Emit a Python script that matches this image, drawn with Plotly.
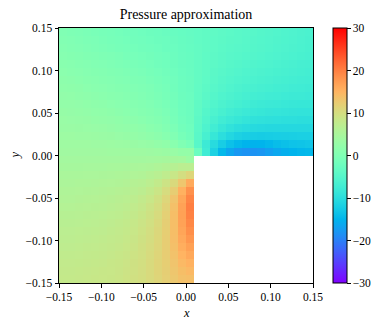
import math
import plotly.graph_objects as go

# ---------------- data ----------------
N = 32
x_min, x_max = -0.15, 0.15
y_min, y_max = -0.15, 0.15

# Pressure values, rows listed from TOP (y=0.145) to BOTTOM (y=-0.145), 32 columns from left to right.
# Upper half (y > 0): all 32 columns.  Lower half (y < 0): only the 17 left columns (x < 0.009), rest is outside the domain.
top_left = [
    [0.0, -0.2, -0.4, -0.6, -0.8, -1.0, -1.2, -1.4, -1.6, -1.8, -2.0, -2.2, -2.4, -2.6, -2.8, -3.0],
    [0.3, 0.1, -0.1, -0.3, -0.5, -0.8, -1.0, -1.2, -1.4, -1.6, -1.8, -2.0, -2.2, -2.4, -2.6, -2.9],
    [0.5, 0.3, 0.1, -0.1, -0.3, -0.6, -0.8, -1.0, -1.2, -1.4, -1.6, -1.8, -2.0, -2.3, -2.5, -2.8],
    [0.8, 0.6, 0.4, 0.2, 0.0, -0.2, -0.4, -0.6, -0.9, -1.1, -1.3, -1.5, -1.8, -2.0, -2.3, -2.7],
    [1.1, 0.9, 0.7, 0.5, 0.3, 0.1, -0.1, -0.3, -0.6, -0.8, -1.0, -1.3, -1.6, -1.9, -2.2, -2.6],
    [1.4, 1.2, 1.0, 0.8, 0.6, 0.4, 0.2, 0.0, -0.2, -0.5, -0.7, -1.0, -1.3, -1.6, -2.0, -2.5],
    [1.6, 1.5, 1.3, 1.1, 0.9, 0.7, 0.5, 0.3, 0.1, -0.2, -0.4, -0.7, -1.0, -1.4, -1.8, -2.4],
    [1.9, 1.8, 1.6, 1.4, 1.2, 1.0, 0.8, 0.6, 0.4, 0.1, -0.1, -0.4, -0.8, -1.2, -1.7, -2.3],
    [2.2, 2.1, 1.9, 1.7, 1.5, 1.3, 1.1, 0.9, 0.7, 0.4, 0.1, -0.2, -0.6, -1.0, -1.5, -2.2],
    [2.4, 2.3, 2.2, 2.0, 1.8, 1.6, 1.4, 1.2, 1.0, 0.7, 0.4, 0.1, -0.3, -0.8, -1.4, -2.1],
    [2.7, 2.6, 2.5, 2.3, 2.1, 2.0, 1.8, 1.5, 1.3, 1.0, 0.7, 0.4, 0.0, -0.5, -1.2, -2.0],
    [3.0, 2.9, 2.8, 2.7, 2.5, 2.4, 2.2, 2.0, 1.7, 1.5, 1.2, 0.8, 0.4, -0.1, -0.9, -1.8],
    [3.2, 3.2, 3.1, 3.0, 2.9, 2.8, 2.6, 2.4, 2.2, 2.0, 1.7, 1.3, 0.9, 0.3, -0.5, -1.5],
    [3.5, 3.5, 3.4, 3.4, 3.3, 3.2, 3.1, 2.9, 2.7, 2.5, 2.2, 1.9, 1.5, 0.9, 0.1, -1.0],
    [3.8, 3.8, 3.7, 3.7, 3.6, 3.6, 3.5, 3.4, 3.3, 3.1, 2.9, 2.7, 2.4, 2.0, 1.2, 0.0],
    [4.0, 4.0, 4.0, 4.0, 4.0, 4.0, 3.9, 3.9, 3.9, 3.8, 3.7, 3.6, 3.5, 3.3, 3.0, 2.5],
]
top_right = [
    [-3.2, -3.4, -3.6, -3.8, -4.0, -4.2, -4.4, -4.6, -4.8, -5.0, -5.2, -5.4, -5.6, -5.8, -6.0, -6.2],
    [-3.1, -3.4, -3.6, -3.9, -4.1, -4.3, -4.5, -4.7, -4.9, -5.1, -5.3, -5.5, -5.7, -5.9, -6.1, -6.3],
    [-3.0, -3.3, -3.6, -3.9, -4.2, -4.4, -4.6, -4.8, -5.0, -5.2, -5.4, -5.6, -5.8, -6.0, -6.2, -6.4],
    [-2.9, -3.3, -3.7, -4.0, -4.3, -4.6, -4.8, -5.0, -5.2, -5.4, -5.6, -5.8, -6.0, -6.2, -6.4, -6.6],
    [-2.8, -3.3, -3.7, -4.1, -4.5, -4.8, -5.0, -5.3, -5.5, -5.7, -5.9, -6.1, -6.3, -6.5, -6.7, -6.8],
    [-2.7, -3.3, -3.8, -4.3, -4.7, -5.0, -5.3, -5.6, -5.8, -6.0, -6.2, -6.4, -6.6, -6.7, -6.9, -7.0],
    [-2.6, -3.3, -3.9, -4.5, -4.9, -5.3, -5.6, -5.9, -6.1, -6.3, -6.5, -6.7, -6.9, -7.0, -7.2, -7.3],
    [-2.6, -3.4, -4.1, -4.7, -5.2, -5.6, -6.0, -6.3, -6.5, -6.7, -6.9, -7.1, -7.2, -7.4, -7.5, -7.6],
    [-2.5, -3.5, -4.3, -5.0, -5.6, -6.0, -6.4, -6.7, -7.0, -7.2, -7.4, -7.5, -7.7, -7.8, -7.9, -8.0],
    [-2.4, -3.6, -4.6, -5.4, -6.0, -6.5, -6.9, -7.3, -7.6, -7.8, -8.0, -8.1, -8.3, -8.4, -8.5, -8.5],
    [-2.3, -3.8, -5.0, -5.9, -6.6, -7.2, -7.6, -8.0, -8.3, -8.5, -8.7, -8.8, -8.9, -9.0, -9.1, -9.1],
    [-2.2, -4.0, -5.4, -6.5, -7.4, -8.0, -8.5, -8.9, -9.2, -9.4, -9.5, -9.6, -9.7, -9.7, -9.8, -9.8],
    [-2.0, -4.2, -5.9, -7.3, -8.4, -9.2, -9.8, -10.2, -10.4, -10.6, -10.7, -10.7, -10.7, -10.7, -10.7, -10.7],
    [-1.7, -4.4, -6.6, -8.5, -9.9, -10.9, -11.6, -12.0, -12.2, -12.3, -12.2, -12.1, -12.0, -11.9, -11.8, -11.8],
    [-0.8, -4.6, -7.8, -10.3, -12.2, -13.6, -14.5, -15.0, -15.1, -15.0, -14.6, -14.1, -13.7, -13.4, -13.2, -13.0],
    [2.5, -2.5, -7.5, -11.5, -14.5, -16.5, -17.8, -18.3, -18.3, -18.0, -17.2, -16.3, -15.5, -15.0, -14.7, -14.5],
]
bottom_left = [
    [4.3, 4.3, 4.3, 4.3, 4.3, 4.3, 4.3, 4.3, 4.3, 4.3, 4.3, 4.4, 4.5, 4.6, 4.6, 4.5, 3.5],
    [4.6, 4.6, 4.6, 4.7, 4.7, 4.7, 4.8, 4.8, 4.9, 5.0, 5.1, 5.3, 5.6, 6.0, 6.5, 7.0, 7.0],
    [5.0, 5.0, 5.0, 5.1, 5.1, 5.2, 5.3, 5.4, 5.5, 5.7, 5.9, 6.3, 6.8, 7.5, 8.5, 9.8, 11.0],
    [5.3, 5.3, 5.4, 5.4, 5.5, 5.6, 5.7, 5.8, 6.0, 6.3, 6.6, 7.1, 7.9, 9.0, 10.6, 13.0, 16.0],
    [5.6, 5.6, 5.7, 5.8, 5.9, 6.0, 6.1, 6.3, 6.5, 6.8, 7.2, 7.9, 8.8, 10.2, 12.2, 15.3, 18.5],
    [5.9, 5.9, 6.0, 6.1, 6.2, 6.3, 6.5, 6.7, 6.9, 7.3, 7.8, 8.5, 9.5, 11.0, 13.2, 16.4, 19.5],
    [6.2, 6.2, 6.3, 6.4, 6.5, 6.6, 6.8, 7.0, 7.3, 7.7, 8.2, 9.0, 10.0, 11.5, 13.7, 16.9, 20.0],
    [6.5, 6.5, 6.6, 6.7, 6.8, 6.9, 7.1, 7.3, 7.6, 8.0, 8.6, 9.3, 10.3, 11.8, 14.0, 17.0, 19.8],
    [6.7, 6.7, 6.8, 6.9, 7.0, 7.2, 7.4, 7.6, 7.9, 8.3, 8.9, 9.6, 10.6, 12.0, 14.0, 16.9, 19.3],
    [7.0, 7.0, 7.1, 7.2, 7.3, 7.4, 7.6, 7.8, 8.1, 8.5, 9.1, 9.8, 10.8, 12.1, 14.0, 16.6, 18.7],
    [7.2, 7.2, 7.3, 7.4, 7.5, 7.6, 7.8, 8.0, 8.3, 8.7, 9.3, 10.0, 10.9, 12.2, 13.9, 16.1, 17.9],
    [7.4, 7.4, 7.5, 7.6, 7.7, 7.8, 8.0, 8.2, 8.5, 8.9, 9.5, 10.2, 11.0, 12.2, 13.7, 15.6, 17.0],
    [7.6, 7.6, 7.7, 7.8, 7.9, 8.0, 8.2, 8.4, 8.7, 9.1, 9.6, 10.3, 11.1, 12.2, 13.5, 15.0, 16.1],
    [7.8, 7.8, 7.9, 8.0, 8.1, 8.2, 8.4, 8.6, 8.9, 9.3, 9.7, 10.4, 11.2, 12.1, 13.2, 14.5, 15.2],
    [8.0, 8.0, 8.1, 8.2, 8.3, 8.4, 8.5, 8.7, 9.0, 9.4, 9.8, 10.4, 11.2, 12.0, 13.0, 14.0, 14.5],
    [8.1, 8.1, 8.2, 8.3, 8.4, 8.5, 8.6, 8.8, 9.1, 9.5, 9.9, 10.4, 11.1, 11.9, 12.8, 13.6, 13.8],
]

x_ticks = [-0.15, -0.10, -0.05, 0.00, 0.05, 0.10, 0.15]
y_ticks = [-0.15, -0.10, -0.05, 0.00, 0.05, 0.10, 0.15]
cbar_ticks = [-30, -20, -10, 0, 10, 20, 30]
z_min, z_max = -30, 30

# ---------------- assemble ----------------
dx = (x_max - x_min) / N
dy = (y_max - y_min) / N
xs = [x_min + (i + 0.5) * dx for i in range(N)]
ys = [y_min + (j + 0.5) * dy for j in range(N)]

rows_top_down = [l + r for l, r in zip(top_left, top_right)]
rows_top_down += [row + [None] * (N - len(row)) for row in bottom_left]
z = rows_top_down[::-1]   # bottom-up for ascending y


def rainbow(t):
    r = min(1.0, max(0.0, abs(2 * t - 0.5)))
    g = max(0.0, math.sin(math.pi * t))
    b = max(0.0, math.cos(math.pi * t / 2))
    return "rgb(%d,%d,%d)" % (round(r * 255), round(g * 255), round(b * 255))


colorscale = [[k / 64, rainbow(k / 64)] for k in range(65)]


def fmt(v, nd):
    s = f"{abs(v):.{nd}f}"
    return ("\u2212" + s) if v < 0 else s


FONT = "Liberation Serif"
TICK_SIZE = 11.5

# The page body has an 8 px margin; the figure is sized/placed so that the
# plot area lands at x 59..313, y 28..283 of the 385x320 window.
OFF = 8
W, H = 385 - OFF, 320 - OFF
PL, PR, PT, PB = 59 - OFF, 313 - OFF, 28 - OFF, 283 - OFF
pw, ph = PR - PL, PB - PT

fig = go.Figure(go.Heatmap(
    x=xs, y=ys, z=z, zmin=z_min, zmax=z_max,
    colorscale=colorscale, hoverongaps=False,
    colorbar=dict(
        x=(333 - 59) / pw, xanchor="left", xpad=0, ypad=0,
        y=0.5, yanchor="middle", len=1.0, lenmode="fraction",
        thickness=14, thicknessmode="pixels",
        outlinewidth=1, outlinecolor="black",
        ticks="outside", ticklen=3.5, tickwidth=1, tickcolor="black",
        tickvals=cbar_ticks, ticktext=[fmt(v, 0) for v in cbar_ticks],
        tickfont=dict(family=FONT, size=TICK_SIZE, color="black"),
    ),
))

axis_common = dict(
    showline=True, linecolor="black", linewidth=1, mirror=True,
    ticks="outside", ticklen=3.5, tickwidth=1, tickcolor="black",
    showgrid=False, zeroline=False, automargin=False,
    tickfont=dict(family=FONT, size=TICK_SIZE, color="black"),
)

fig.update_layout(
    width=W, height=H,
    margin=dict(l=PL, r=W - PR, t=PT, b=H - PB, autoexpand=False),
    paper_bgcolor="white", plot_bgcolor="white",
    title=dict(text="Pressure approximation", x=0.5, xref="paper", xanchor="center",
               y=1 - (14 - OFF) / H, yref="container", yanchor="middle",
               font=dict(family=FONT, size=14, color="black")),
    xaxis=dict(range=[x_min, x_max], tickvals=x_ticks,
               ticktext=[fmt(v, 2) for v in x_ticks], **axis_common),
    yaxis=dict(range=[y_min, y_max], tickvals=y_ticks,
               ticktext=[fmt(v, 2) for v in y_ticks], **axis_common),
    annotations=[
        dict(text="<i>x</i>", xref="paper", yref="paper", x=0.5, y=-(313 - 283) / ph,
             showarrow=False, xanchor="center", yanchor="middle",
             font=dict(family=FONT, size=TICK_SIZE + 1, color="black")),
        dict(text="<i>y</i>", xref="paper", yref="paper", x=-(59 - 14) / pw, y=0.5,
             showarrow=False, xanchor="center", yanchor="middle", textangle=-90,
             borderpad=0,
             font=dict(family=FONT, size=TICK_SIZE + 1, color="black")),
    ],
)

fig.write_html("out.html")
